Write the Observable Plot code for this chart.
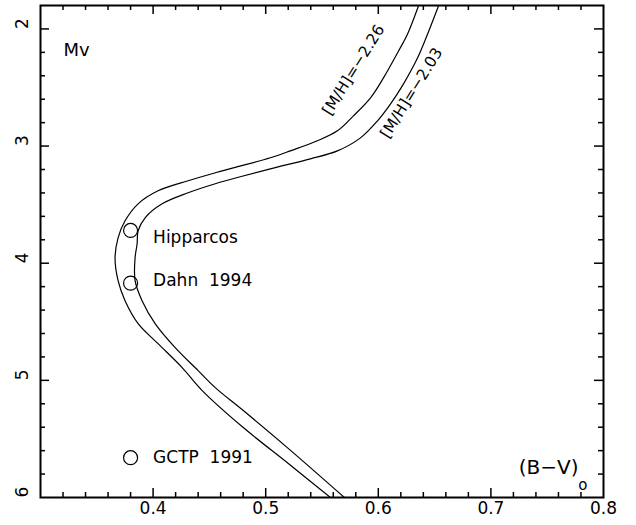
<!DOCTYPE html>
<html>
<head>
<meta charset="utf-8">
<script src="https://cdn.jsdelivr.net/npm/d3@7"></script>
<script src="https://cdn.jsdelivr.net/npm/@observablehq/plot@0.6"></script>
<style>
  html, body { margin: 0; padding: 0; background: #fff; }
  svg { display: block; }
</style>
</head>
<body>
<div id="chart"></div>
<script>
// Isochrone [M/H] = -2.26 (B-V, Mv)
const isoA_bv = [0.6358, 0.6260, 0.6180, 0.6046, 0.5931, 0.5779, 0.5637, 0.5459, 0.5219, 0.5041, 0.4712, 0.4552, 0.4311, 0.4044, 0.3867, 0.3751, 0.3689, 0.3662, 0.3689, 0.3751, 0.3867, 0.4044, 0.4258, 0.4436, 0.4801, 0.5201, 0.5575];
const isoA_mv = [1.80, 2.043, 2.188, 2.418, 2.588, 2.742, 2.870, 2.955, 3.041, 3.100, 3.186, 3.228, 3.296, 3.382, 3.493, 3.638, 3.783, 3.953, 4.149, 4.320, 4.516, 4.687, 4.891, 5.087, 5.403, 5.710, 6.00];
// Isochrone [M/H] = -2.03
const isoB_bv = [0.6536, 0.6438, 0.6349, 0.6224, 0.6109, 0.5993, 0.5842, 0.5637, 0.5397, 0.5041, 0.4774, 0.4552, 0.4311, 0.4080, 0.3929, 0.3867, 0.3858, 0.3840, 0.3840, 0.3902, 0.4018, 0.4196, 0.4400, 0.4552, 0.4801, 0.5192, 0.5699];
const isoB_mv = [1.80, 2.043, 2.247, 2.469, 2.640, 2.785, 2.930, 3.041, 3.109, 3.194, 3.262, 3.322, 3.399, 3.493, 3.612, 3.723, 3.834, 3.953, 4.149, 4.320, 4.516, 4.721, 4.917, 5.062, 5.258, 5.574, 6.00];

// Turn-off estimates
const pointNames = ["Hipparcos", "Dahn\u00a0\u00a01994", "GCTP\u00a0\u00a01991"];
const pointBV = [0.380, 0.380, 0.380];
const pointMv = [3.72, 4.17, 5.66];
const labelMv = [3.78, 4.15, 5.66];

// Curve labels
const curveLabels = ["[M/H]=\u22122.26", "[M/H]=\u22122.03"];
const curveLabelBV = [0.578, 0.6295];
const curveLabelMv = [2.35, 2.546];

// Axis ticks
const xLabelTicks = [0.4, 0.5, 0.6, 0.7, 0.8];
const xMajor = [0.4, 0.5, 0.6, 0.7];
const xMinor = [0.32, 0.34, 0.36, 0.38, 0.42, 0.44, 0.46, 0.48, 0.52, 0.54, 0.56, 0.58, 0.62, 0.64, 0.66, 0.68, 0.72, 0.74, 0.76, 0.78];
const yLabelTicks = [2, 3, 4, 5, 6];
const yMajor = [2, 3, 4, 5];
const yMinor = [2.2, 2.4, 2.6, 2.8, 3.2, 3.4, 3.6, 3.8, 4.2, 4.4, 4.6, 4.8, 5.2, 5.4, 5.6, 5.8];

const isoA = isoA_bv.map((x, i) => ({bv: x, mv: isoA_mv[i]}));
const isoB = isoB_bv.map((x, i) => ({bv: x, mv: isoB_mv[i]}));
const pts = pointNames.map((n, i) => ({name: n, bv: pointBV[i], mv: pointMv[i], lmv: labelMv[i]}));
const clabels = curveLabels.map((t, i) => ({t, bv: curveLabelBV[i], mv: curveLabelMv[i]}));

const W = 636, H = 525;
const mL = 40, mR = 33, mT = 5, mB = 28;
const fw = W - mL - mR, fh = H - mT - mB;
const majLen = 9, minLen = 5;
const font = "DejaVu Sans";

const plot = Plot.plot({
  width: W,
  height: H,
  marginLeft: mL,
  marginRight: mR,
  marginTop: mT,
  marginBottom: mB,
  style: {fontFamily: font, fontSize: "17px", background: "#fff", color: "#000"},
  x: {domain: [0.3, 0.8], axis: null},
  y: {domain: [1.8, 6], reverse: true, axis: null},
  marks: [
    // isochrones
    Plot.line(isoA, {x: "bv", y: "mv", curve: "catmull-rom", stroke: "#000", strokeWidth: 1.2, clip: true}),
    Plot.line(isoB, {x: "bv", y: "mv", curve: "catmull-rom", stroke: "#000", strokeWidth: 1.2, clip: true}),
    // points
    Plot.dot(pts, {x: "bv", y: "mv", r: 7, stroke: "#000", strokeWidth: 1.2, fill: "none"}),
    Plot.text(pts, {x: 0.4, y: "lmv", text: "name", textAnchor: "start", fontSize: 17, fontFamily: font, fill: "#000"}),
    // curve labels
    Plot.text(clabels, {x: "bv", y: "mv", text: "t", rotate: -58, fontSize: 15.5, fontFamily: font, fill: "#000"}),
    // inside ticks: bottom & top
    Plot.ruleX(xMajor, {x: d => d, insetTop: fh - majLen, strokeWidth: 1.5}),
    Plot.ruleX(xMinor, {x: d => d, insetTop: fh - minLen, strokeWidth: 1.5}),
    Plot.ruleX(xMajor, {x: d => d, insetBottom: fh - majLen, strokeWidth: 1.5}),
    Plot.ruleX(xMinor, {x: d => d, insetBottom: fh - minLen, strokeWidth: 1.5}),
    // inside ticks: left & right
    Plot.ruleY(yMajor, {y: d => d, insetRight: fw - majLen, strokeWidth: 1.5}),
    Plot.ruleY(yMinor, {y: d => d, insetRight: fw - minLen, strokeWidth: 1.5}),
    Plot.ruleY(yMajor, {y: d => d, insetLeft: fw - majLen, strokeWidth: 1.5}),
    Plot.ruleY(yMinor, {y: d => d, insetLeft: fw - minLen, strokeWidth: 1.5}),
    // tick labels
    Plot.text(xLabelTicks, {x: d => d, text: d => String(d), frameAnchor: "bottom", dy: 16, fontSize: 17, fontFamily: font, fill: "#000"}),
    Plot.text(yLabelTicks, {y: d => d, text: d => String(d), frameAnchor: "left", dx: -18, rotate: -90, fontSize: 17, fontFamily: font, fill: "#000"}),
    // axis titles
    Plot.text(["Mv"], {frameAnchor: "top-left", dx: 23, dy: 38, textAnchor: "start", fontSize: 18, fontFamily: font, fill: "#000"}),
    Plot.text(["(B\u2212V)"], {frameAnchor: "bottom-right", dx: -25, dy: -24, textAnchor: "end", fontSize: 20, fontFamily: font, fill: "#000", letterSpacing: "2.5px"}),
    Plot.text(["o"], {frameAnchor: "bottom-right", dx: -16, dy: -8, fontSize: 15, fontFamily: font, fill: "#000"}),
    // frame
    Plot.frame({stroke: "#000", strokeWidth: 2})
  ]
});
document.getElementById("chart").appendChild(plot);
</script>
</body>
</html>
